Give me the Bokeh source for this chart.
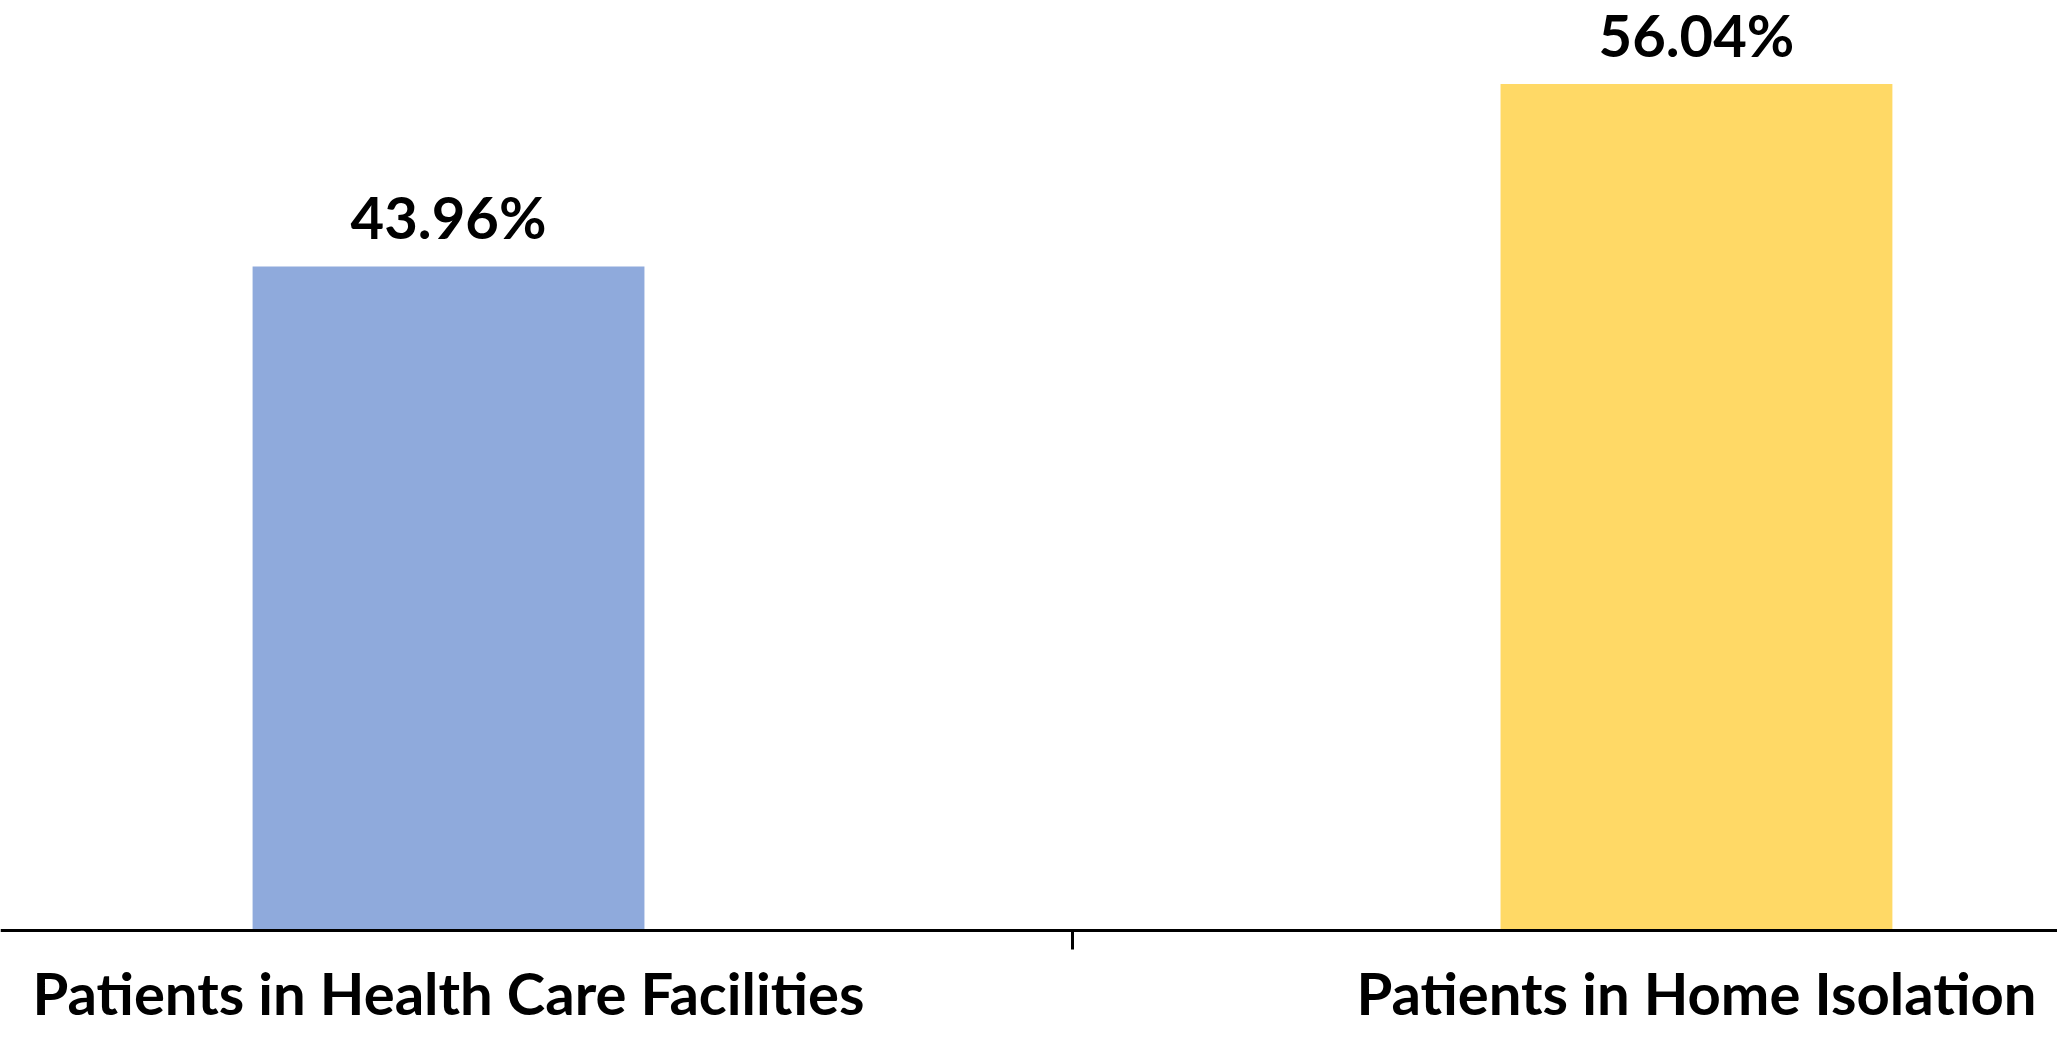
from bokeh.plotting import figure
from bokeh.models import ColumnDataSource, FixedTicker, Range1d
from bokeh.core.properties import value
from bokeh.embed import file_html
from bokeh.resources import INLINE

categories = ["Patients in Health Care Facilities", "Patients in Home Isolation"]
shares = [43.96, 56.04]
share_labels = ["43.96%", "56.04%"]
colors = ["#8FAADC", "#FFD966"]

xpos = list(range(len(categories)))
src = ColumnDataSource(dict(x=xpos, top=shares, label=share_labels, color=colors))

FONT = "Lato"

p = figure(width=2057, height=1032, output_backend="svg", toolbar_location=None,
           x_range=Range1d(-0.359, 1.2893), y_range=Range1d(-6.75, 61.57),
           min_border_left=0, min_border_right=0, min_border_top=0, min_border_bottom=0)
p.outline_line_color = None
p.grid.visible = False
p.yaxis.visible = False

p.vbar(x="x", top="top", width=0.314, color="color", line_color=None, source=src)
p.text(x="x", y="top", text="label", source=src, text_align="center", text_baseline="alphabetic",
       y_offset=-50, text_font=value(FONT), text_font_style="bold", text_font_size="58px",
       text_color="#000000")

ax = p.xaxis[0]
ax.fixed_location = 0
ax.ticker = FixedTicker(ticks=xpos, minor_ticks=[0.5])
ax.major_label_overrides = {i: c for i, c in enumerate(categories)}
ax.axis_line_color = "#000000"
ax.axis_line_width = 3
ax.major_tick_line_color = None
ax.major_tick_out = 0
ax.major_tick_in = 0
ax.minor_tick_line_color = "#000000"
ax.minor_tick_line_width = 3
ax.minor_tick_out = 19
ax.minor_tick_in = 0
ax.major_label_standoff = 8
ax.major_label_text_font = FONT
ax.major_label_text_font_style = "bold"
ax.major_label_text_font_size = "58px"
ax.major_label_text_color = "#000000"

open("out.html", "w").write(file_html(p, INLINE))
